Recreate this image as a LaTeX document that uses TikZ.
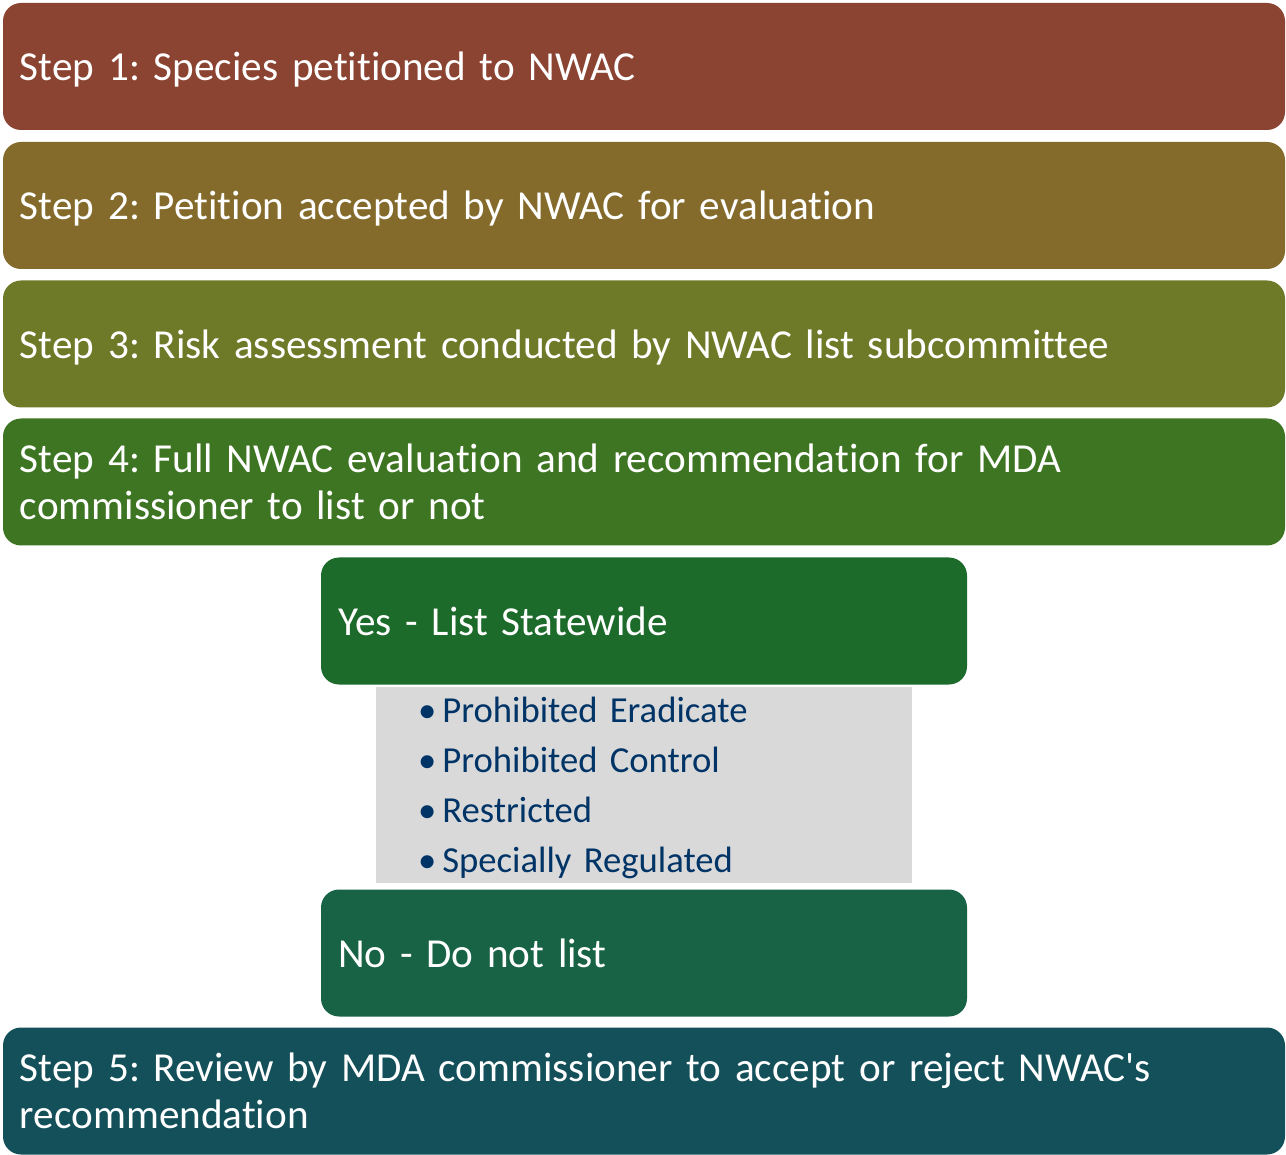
\documentclass[tikz,border=0pt]{standalone}
\usepackage{fontspec}
\setmainfont{Carlito}[Ligatures=NoCommon]
\frenchspacing
\definecolor{stepone}{RGB}{139,67,50}
\definecolor{steptwo}{RGB}{132,107,43}
\definecolor{stepthree}{RGB}{110,122,40}
\definecolor{stepfour}{RGB}{62,117,34}
\definecolor{yesgreen}{RGB}{28,107,42}
\definecolor{nogreen}{RGB}{24,99,70}
\definecolor{stepfive}{RGB}{19,80,89}
\definecolor{listgray}{RGB}{217,217,217}
\definecolor{listblue}{RGB}{0,51,102}
% single lines are centred on their height only, ignoring descenders
\newcommand{\nodepth}[1]{\raisebox{0pt}[\height][0pt]{#1}}
\tikzset{
  stepbox/.style={draw=none, rounded corners=13.5pt, text=white,
    font=\fontsize{30.9pt}{35pt}\selectfont, align=left,
    inner xsep=12.75pt, inner ysep=0pt, minimum height=95.25pt},
  widebox/.style={stepbox, text width=936pt},
  narrowbox/.style={stepbox, text width=459pt},
  listbox/.style={fill=listgray, text=listblue, align=left,
    font=\fontsize{27.5pt}{37.5pt}\selectfont,
    text width=339pt, inner xsep=31.5pt, inner ysep=0pt, minimum height=147pt}
}
\begin{document}
\begin{tikzpicture}[x=0.75pt, y=-0.75pt]
  \useasboundingbox (0,0) rectangle (1286,1155);
  \fill[white] (0,0) rectangle (1286,1155);
  \node[widebox, fill=stepone] (s1) at (644,66.5) {\nodepth{Step 1: Species petitioned to NWAC}};
  \node[widebox, fill=steptwo] (s2) at (644,205.5) {\nodepth{Step 2: Petition accepted by NWAC for evaluation}};
  \node[widebox, fill=stepthree] (s3) at (644,344) {\nodepth{Step 3: Risk assessment conducted by NWAC list subcommittee}};
  \node[widebox, fill=stepfour] (s4) at (644,482) {Step 4: Full NWAC evaluation and recommendation for MDA\\commissioner to list or not};
  \node[narrowbox, fill=yesgreen] (yes) at (644,621) {Yes - List Statewide};
  \node[listbox] (cats) at (644,785) {\raisebox{-2.25pt}[\height][\depth]{\parbox{339pt}{\textbullet\,Prohibited Eradicate\\\textbullet\,Prohibited Control\\\textbullet\,Restricted\\\textbullet\,Specially Regulated}}};
  \node[narrowbox, fill=nogreen] (no) at (644,953) {No - Do not list};
  \node[widebox, fill=stepfive] (s5) at (644,1091) {Step 5: Review by MDA commissioner to accept or reject NWAC\textquotesingle s\\recommendation};
\end{tikzpicture}
\end{document}
